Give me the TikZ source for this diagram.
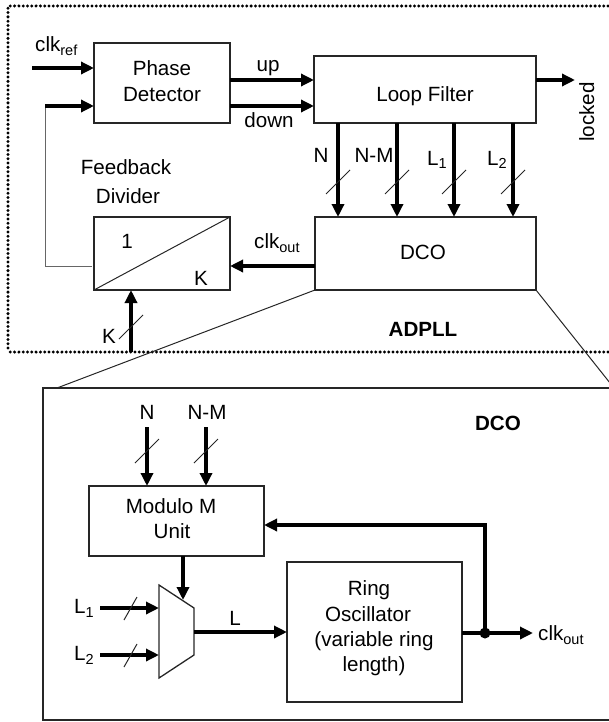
\documentclass[tikz,border=0pt]{standalone}
\usepackage{fontspec}
\setmainfont{Liberation Sans}
\usetikzlibrary{arrows.meta}
\newcommand{\dsub}[1]{\raisebox{-4pt}{\fontsize{14.5}{14.5}\selectfont #1}}
\begin{document}
\begin{tikzpicture}[x=1pt,y=-1pt,
  box/.style={draw=black!85, line width=1.3pt, inner sep=0pt, outer sep=0pt, anchor=north west},
  sig/.style={line width=3.5pt, -{Triangle[length=13pt,width=12pt]}},
  thinl/.style={line width=1pt, draw=black!85},
  fbl/.style={line width=1pt, draw=black!60},
  lbl/.style={font=\fontsize{20.6}{25}\selectfont, inner sep=0pt, anchor=base, align=center},
  blbl/.style={font=\fontsize{20.6}{25}\selectfont\bfseries, inner sep=0pt, anchor=base},
  dotc/.style={fill=black}
]
\useasboundingbox (0,0) rectangle (609,722);

% ADPLL dotted frame (drawn as dots)
\foreach \xx in {10.3,14.6,...,612}{ \fill[dotc] (\xx,6) circle (1.65pt); \fill[dotc] (\xx,352) circle (1.65pt); }
\foreach \yy in {8.3,12.6,...,350}{ \fill[dotc] (8,\yy) circle (1.65pt); }

% blocks
\node[box, minimum width=136pt, minimum height=80pt] (pd) at (94,43) {};
\node[box, minimum width=222pt, minimum height=67pt] (lf) at (314,56) {};
\node[box, minimum width=136pt, minimum height=73pt] (fd) at (94,217) {};
\node[box, minimum width=221pt, minimum height=73pt] (dco) at (315,217) {};
\draw[thinl] (fd.south west) -- (fd.north east);

% texts top
\node[lbl, anchor=base west] (tclkref) at (35,52) {clk\dsub{ref}};
\node[lbl] (tpd1) at (162,76) {Phase};
\node[lbl] (tpd2) at (162,102) {Detector};
\node[lbl] (tup) at (268,72) {up};
\node[lbl] (tdown) at (269,128) {down};
\node[lbl] (tlf) at (425,102) {Loop Filter};
\node[lbl, rotate=90] (tlocked) at (594,112) {locked};
\node[lbl] (tN) at (321,163) {N};
\node[lbl] (tNM) at (374,163) {N-M};
\node[lbl] (tL1) at (437,165) {L\dsub{1}};
\node[lbl] (tL2) at (497,165) {L\dsub{2}};
\node[lbl] (tfb1) at (126,175) {Feedback};
\node[lbl] (tfb2) at (128,204) {Divider};
\node[lbl] (tone) at (127,248) {1};
\node[lbl] (tK) at (201,285) {K};
\node[lbl, anchor=base west] (tclkout) at (254,248) {clk\dsub{out}};
\node[lbl] (tdco) at (423,259) {DCO};
\node[blbl] (tadpll) at (423,336) {ADPLL};
\node[lbl] (tKin) at (109,343) {K};

% connectors top
\coordinate (clkin) at (32,68);
\draw[sig] (clkin) -- (pd.west |- clkin);
\coordinate (fbA) at (92,266);
\coordinate (fbB) at (45,266);
\coordinate (fbC) at (45,106);
\draw[fbl] (fbA) -- (fbB) -- (fbC);
\draw[sig] (fbC) -- (pd.west |- fbC);
\coordinate (upy) at (0,80);
\coordinate (dny) at (0,106);
\draw[sig] (pd.east |- upy) -- (lf.west |- upy);
\draw[sig] (pd.east |- dny) -- (lf.west |- dny);
\coordinate (lockend) at (575,80);
\draw[sig] (lf.east |- lockend) -- (lockend);
\foreach \xx [count=\i] in {338,397,454,513}{
  \coordinate (v\i) at (\xx,182);
  \draw[sig] (v\i |- lf.south) -- (v\i |- dco.north);
  \draw[thinl, shift={(v\i)}] (-12,12) -- (12,-12);
}
\coordinate (coy) at (0,266);
\draw[sig] (dco.west |- coy) -- (fd.east |- coy);
\coordinate (kin) at (131,352);
\coordinate (kslash) at (131,327);
\draw[sig] (kin) -- (kin |- fd.south);
\draw[thinl, shift={(kslash)}] (-12,12) -- (12,-12);

% zoom lines
\coordinate (zl) at (57,388);
\coordinate (zr) at (614,388);
\draw[thinl] (dco.south west) -- (zl);
\draw[thinl] (dco.south east) -- (zr);

% DCO inset frame
\draw[line width=1.3pt, black!85] (618,388) -- (43,388) -- (43,720) -- (618,720);

% inset blocks
\node[box, minimum width=175pt, minimum height=70pt] (mod) at (89,486) {};
\node[box, minimum width=175pt, minimum height=140pt] (ring) at (287,562) {};
\coordinate (m1) at (159,585);
\coordinate (m2) at (194,608);
\coordinate (m3) at (194,655);
\coordinate (m4) at (159,678);
\draw[line width=1.3pt, black!85] (m1) -- (m2) -- (m3) -- (m4) -- cycle;

% inset texts
\node[blbl] (tdco2) at (498,430) {DCO};
\node[lbl] (tiN) at (147,419) {N};
\node[lbl] (tiNM) at (207,419) {N-M};
\node[lbl] (tmod1) at (171,513) {Modulo M};
\node[lbl] (tmod2) at (172,538) {Unit};
\node[lbl] (tr1) at (369,595) {Ring};
\node[lbl] (tr2) at (368,621) {Oscillator};
\node[lbl] (tr3) at (374,646) {(variable ring};
\node[lbl] (tr4) at (374,671) {length)};
\node[lbl] (tiL1) at (84,613) {L\dsub{1}};
\node[lbl] (tiL2) at (84,660) {L\dsub{2}};
\node[lbl] (tL) at (235,625) {L};
\node[lbl, anchor=base west] (ticlk) at (538,640) {clk\dsub{out}};

% inset connectors
\coordinate (iN) at (147,427);
\coordinate (iNM) at (206,427);
\draw[sig] (iN) -- (iN |- mod.north);
\draw[sig] (iNM) -- (iNM |- mod.north);
\draw[thinl, shift={(147,451)}] (-12,12) -- (12,-12);
\draw[thinl, shift={(206,451)}] (-12,12) -- (12,-12);
\coordinate (mc) at (183,556);
\coordinate (mct) at (183,600);
\draw[sig] (mc) -- (mct);
\coordinate (l1s) at (100,608);
\coordinate (l2s) at (100,655);
\draw[sig] (l1s) -- (m1 |- l1s);
\draw[sig] (l2s) -- (m1 |- l2s);
\draw[thinl, shift={(130,608)}] (-6,12) -- (7,-11);
\draw[thinl, shift={(130,655)}] (-6,12) -- (7,-11);
\coordinate (mo) at (194,632);
\draw[sig] (mo) -- (ring.west |- mo);
\coordinate (jn) at (485,633);
\coordinate (fbk) at (485,525);
\coordinate (clkend) at (533,633);
\draw[sig] (ring.east |- jn) -- (clkend);
\draw[sig] (jn) -- (fbk) -- (mod.east |- fbk);
\fill (jn) circle (5.5pt);
\end{tikzpicture}
\end{document}
